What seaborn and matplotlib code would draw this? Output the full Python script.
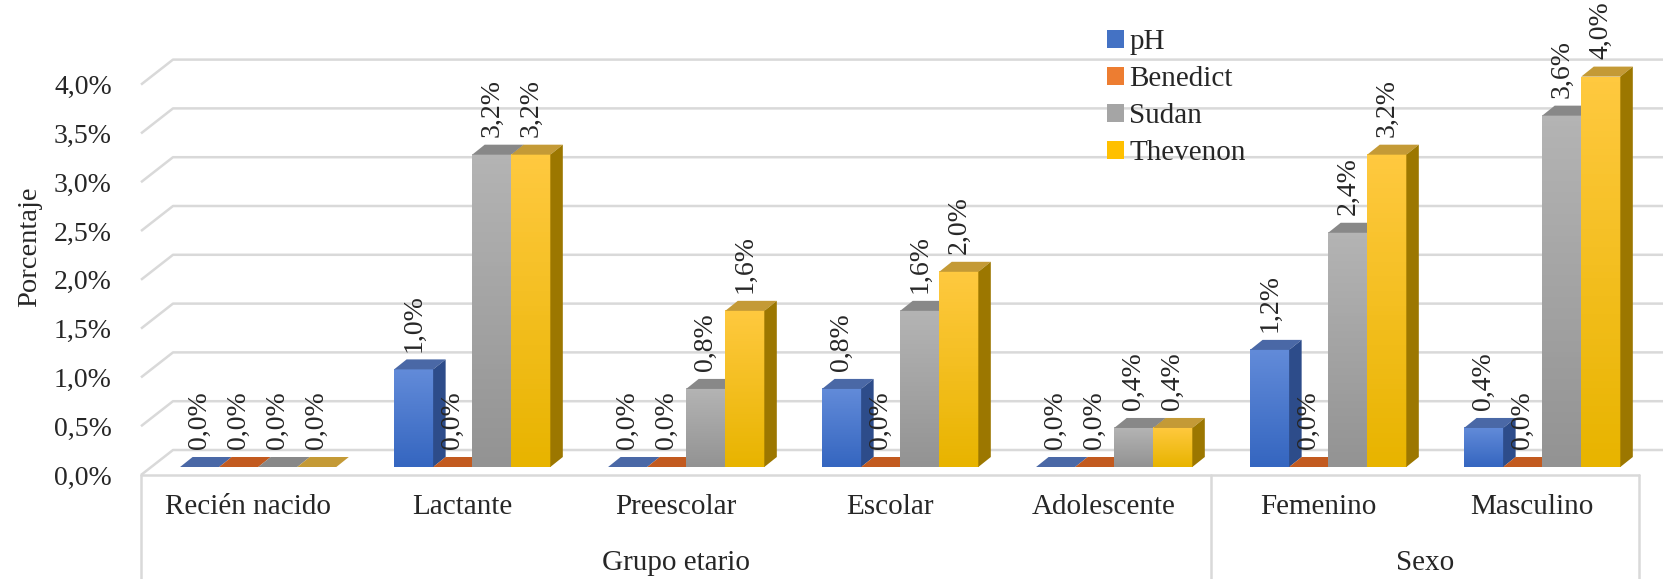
import numpy as np
import pandas as pd
import matplotlib
matplotlib.use("Agg")
import matplotlib.pyplot as plt
import seaborn as sns
from matplotlib.patches import Polygon, Patch
from matplotlib.colors import LinearSegmentedColormap

# -----------------------------
# Data
# -----------------------------
categorias = ["Recién nacido", "Lactante", "Preescolar", "Escolar",
              "Adolescente", "Femenino", "Masculino"]
grupos = ["Grupo etario", "Sexo"]
pruebas = ["pH", "Benedict", "Sudan", "Thevenon"]

ph = [0.0, 1.0, 0.0, 0.8, 0.0, 1.2, 0.4]
benedict = [0.0, 0.0, 0.0, 0.0, 0.0, 0.0, 0.0]
sudan = [0.0, 3.2, 0.8, 1.6, 0.4, 2.4, 3.6]
thevenon = [0.0, 3.2, 1.6, 2.0, 0.4, 3.2, 4.0]

y_ticks = [0.0, 0.5, 1.0, 1.5, 2.0, 2.5, 3.0, 3.5, 4.0]
y_ticklabels = ["0,0%", "0,5%", "1,0%", "1,5%", "2,0%", "2,5%", "3,0%", "3,5%", "4,0%"]

df = pd.DataFrame({
    "categoria": categorias * 4,
    "prueba": np.repeat(pruebas, len(categorias)),
    "valor": ph + benedict + sudan + thevenon,
})

# -----------------------------
# Colours (Excel 3D look)
# -----------------------------
base_colors = ["#4472C4", "#ED7D31", "#A5A5A5", "#FFC000"]
front_top = ["#628BD9", "#E8773A", "#B4B4B4", "#FFC93F"]
front_bottom = ["#3566C0", "#C55A1D", "#939393", "#E8B400"]
top_colors = ["#4A68A6", "#C25A1F", "#888888", "#C49A36"]
side_colors = ["#2D4C8A", "#9A4614", "#777777", "#9C7700"]
GRID = "#D9D9D9"

# -----------------------------
# Figure / axes
# -----------------------------
sns.set_style("white")
plt.rcParams["font.family"] = ["Liberation Serif", "DejaVu Serif"]

W, H = 1663, 579
fig = plt.figure(figsize=(W / 100, H / 100), dpi=100)

PX_X = 214.0     # pixels per category
PX_Y = 97.6      # pixels per 1 %
ax_w_px = 7 * PX_X
ax_h_px = 4 * PX_Y

ax_wall = fig.add_axes([141 / W, 104 / H, ax_w_px / W, ax_h_px / H])
ax_bar = fig.add_axes([151.2 / W, 112 / H, ax_w_px / W, ax_h_px / H])
ax_bar.patch.set_alpha(0)

# depth of walls/floor and of bars (data units)
DX, DY = 32 / PX_X, 25 / PX_Y
ddx, ddy = 12.5 / PX_X, 10 / PX_Y

# walls: side wall + back wall gridlines
for v in y_ticks:
    ax_wall.plot([-0.5, -0.5 + DX, 6.6 + DX], [v, v + DY, v + DY],
                 color=GRID, lw=1.8, clip_on=False, zorder=1,
                 solid_capstyle="butt")

# category box
ax_wall.plot([-0.5, 6.5], [0, 0], color=GRID, lw=1.8, clip_on=False)
for xv in [-0.5, 4.5, 6.5]:
    ax_wall.plot([xv, xv], [0, -1.3], color=GRID, lw=1.8, clip_on=False)

ax_wall.set_xlim(-0.5, 6.5)
ax_wall.set_ylim(0, 4)
ax_wall.set_xticks(range(len(categorias)))
ax_wall.set_xticklabels(categorias, fontsize=21)
ax_wall.set_yticks(y_ticks)
ax_wall.set_yticklabels(y_ticklabels, fontsize=20)
ax_wall.tick_params(axis="x", length=0, pad=13.5)
ax_wall.tick_params(axis="y", length=0, pad=21)
for s in ax_wall.spines.values():
    s.set_visible(False)
ax_wall.grid(False)

ax_wall.text(2, -0.90, grupos[0], ha="center", va="center", fontsize=21)
ax_wall.text(5.5, -0.90, grupos[1], ha="center", va="center", fontsize=21)

fig.text(29.5 / W, 1 - 247 / H, "Porcentaje", rotation=90,
         ha="center", va="center", fontsize=20.5)

# -----------------------------
# Bars
# -----------------------------
sns.barplot(data=df, x="categoria", y="valor", hue="prueba",
            order=categorias, hue_order=pruebas, palette=base_colors,
            width=0.73, gap=0, saturation=1, errorbar=None,
            legend=False, ax=ax_bar)

bars = []
for k, cont in enumerate(ax_bar.containers):
    for rect in cont.patches:
        bars.append((rect.get_x(), k, rect))
bars.sort(key=lambda t: t[0])

grad = np.linspace(0, 1, 64).reshape(-1, 1)
for n, (x0, k, rect) in enumerate(bars):
    w = rect.get_width()
    h = rect.get_height()
    z = 10 + 3 * n
    rect.set_zorder(z)
    rect.set_edgecolor("none")
    if h > 0:
        cmap = LinearSegmentedColormap.from_list(f"g{k}", [front_bottom[k], front_top[k]])
        ax_bar.imshow(grad, extent=(x0, x0 + w, 0, h), origin="lower",
                      aspect="auto", cmap=cmap, zorder=z + 0.5)
    top = Polygon([(x0, h), (x0 + w, h), (x0 + w + ddx, h + ddy), (x0 + ddx, h + ddy)],
                  closed=True, fc=top_colors[k], ec="none", zorder=z + 1, clip_on=False)
    side = Polygon([(x0 + w, 0), (x0 + w + ddx, ddy), (x0 + w + ddx, h + ddy), (x0 + w, h)],
                   closed=True, fc=side_colors[k], ec="none", zorder=z + 1, clip_on=False)
    ax_bar.add_patch(top)
    ax_bar.add_patch(side)
    ax_bar.text(x0 + w / 2, h + ddy + 0.08, f"{h:.1f}%".replace(".", ","),
                rotation=90, ha="center", va="bottom", fontsize=20, zorder=300)

ax_bar.set_xlim(-0.5, 6.5)
ax_bar.set_ylim(0, 4)
ax_bar.set_axis_off()

# -----------------------------
# Legend
# -----------------------------
handles = [Patch(facecolor=c, edgecolor="none") for c in base_colors]
fig.legend(handles, pruebas, loc="upper left",
           bbox_to_anchor=(1107 / W, 1 - 29 / H), frameon=False,
           fontsize=21, handlelength=0.57, handleheight=0.57,
           handletextpad=0.2, labelspacing=0.38, borderpad=0,
           borderaxespad=0)

fig.savefig("out.png", dpi=100)
